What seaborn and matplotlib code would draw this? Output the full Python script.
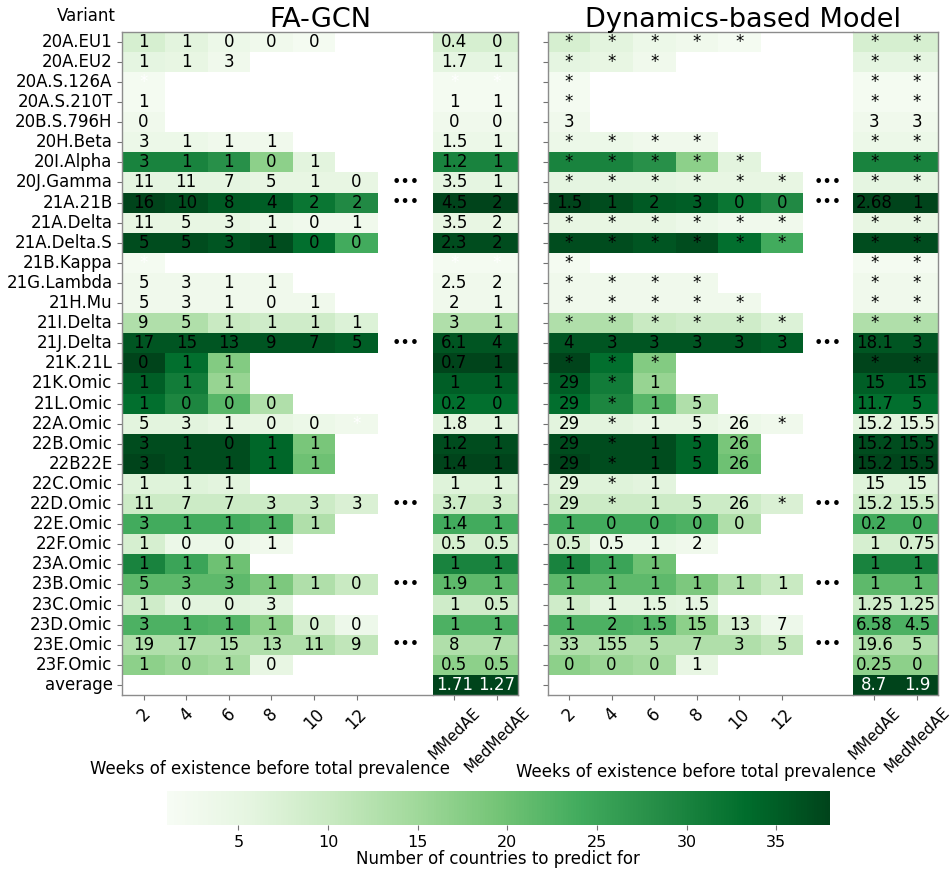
import numpy as np
import pandas as pd
import seaborn as sns
import matplotlib.pyplot as plt

variants = ["20A.EU1", "20A.EU2", "20A.S.126A", "20A.S.210T", "20B.S.796H", "20H.Beta",
            "20I.Alpha", "20J.Gamma", "21A.21B", "21A.Delta", "21A.Delta.S", "21B.Kappa",
            "21G.Lambda", "21H.Mu", "21I.Delta", "21J.Delta", "21K.21L", "21K.Omic",
            "21L.Omic", "22A.Omic", "22B.Omic", "22B22E", "22C.Omic", "22D.Omic",
            "22E.Omic", "22F.Omic", "23A.Omic", "23B.Omic", "23C.Omic", "23D.Omic",
            "23E.Omic", "23F.Omic", "average"]
weeks = ["2", "4", "6", "8", "10", "12"]
agg_cols = ["MMedAE", "MedMedAE"]

# number of countries to predict for (colour), per week column
countries = [
    [8, 6, 4, 3, 2],
    [5.5, 5, 3],
    [2],
    [2],
    [3],
    [4, 4, 3, 3],
    [30, 30, 28, 17, 6],
    [5.5, 5.5, 5.5, 5, 5, 5],
    [38, 37, 35.5, 35, 32, 29],
    [5, 5, 5, 4, 3, 3],
    [37, 37, 36, 37, 33, 24],
    [2],
    [3, 3, 3, 3],
    [3, 3, 3, 3, 3],
    [13, 13, 10, 9, 9, 7],
    [36, 36, 36, 36, 36, 35],
    [38, 33, 18],
    [35, 31, 16],
    [33, 29.5, 22, 13],
    [6, 6, 5, 5, 4, 3],
    [37, 37, 37, 34, 19],
    [38, 37, 37, 34, 20],
    [6.5, 6.5, 6],
    [9.5, 9.5, 9.5, 9.5, 9.5, 7.5],
    [24, 24, 24, 23, 13],
    [8, 4, 4, 3],
    [30, 25, 20],
    [21.5, 21.5, 21.5, 18.5, 13, 10],
    [9, 6, 6, 5.5],
    [23, 23, 22.5, 17, 8, 3.5],
    [13, 13, 13, 13, 13, 11],
    [17, 15.5, 14.5, 5],
    [],
]
average_countries = 38

fagcn_weeks = [
    ["1", "1", "0", "0", "0"], ["1", "1", "3"], ["*"], ["1"], ["0"],
    ["3", "1", "1", "1"], ["3", "1", "1", "0", "1"], ["11", "11", "7", "5", "1", "0"],
    ["16", "10", "8", "4", "2", "2"], ["11", "5", "3", "1", "0", "1"],
    ["5", "5", "3", "1", "0", "0"], ["*"], ["5", "3", "1", "1"], ["5", "3", "1", "0", "1"],
    ["9", "5", "1", "1", "1", "1"], ["17", "15", "13", "9", "7", "5"], ["0", "1", "1"],
    ["1", "1", "1"], ["1", "0", "0", "0"], ["5", "3", "1", "0", "0", "*"],
    ["3", "1", "0", "1", "1"], ["3", "1", "1", "1", "1"], ["1", "1", "1"],
    ["11", "7", "7", "3", "3", "3"], ["3", "1", "1", "1", "1"], ["1", "0", "0", "1"],
    ["1", "1", "1"], ["5", "3", "3", "1", "1", "0"], ["1", "0", "0", "3"],
    ["3", "1", "1", "1", "0", "0"], ["19", "17", "15", "13", "11", "9"],
    ["1", "0", "1", "0"], [],
]
fagcn_agg = [
    ["0.4", "0"], ["1.7", "1"], ["*", "*"], ["1", "1"], ["0", "0"], ["1.5", "1"],
    ["1.2", "1"], ["3.5", "1"], ["4.5", "2"], ["3.5", "2"], ["2.3", "2"], ["*", "*"],
    ["2.5", "2"], ["2", "1"], ["3", "1"], ["6.1", "4"], ["0.7", "1"], ["1", "1"],
    ["0.2", "0"], ["1.8", "1"], ["1.2", "1"], ["1.4", "1"], ["1", "1"], ["3.7", "3"],
    ["1.4", "1"], ["0.5", "0.5"], ["1", "1"], ["1.9", "1"], ["1", "0.5"], ["1", "1"],
    ["8", "7"], ["0.5", "0.5"], ["1.71", "1.27"],
]
dyn_weeks = [
    ["*"] * 5, ["*"] * 3, ["*"], ["*"], ["3"], ["*"] * 4, ["*"] * 5, ["*"] * 6,
    ["1.5", "1", "2", "3", "0", "0"], ["*"] * 6, ["*"] * 6, ["*"], ["*"] * 4, ["*"] * 5,
    ["*"] * 6, ["4", "3", "3", "3", "3", "3"], ["*"] * 3, ["29", "*", "1"],
    ["29", "*", "1", "5"], ["29", "*", "1", "5", "26", "*"], ["29", "*", "1", "5", "26"],
    ["29", "*", "1", "5", "26"], ["29", "*", "1"], ["29", "*", "1", "5", "26", "*"],
    ["1", "0", "0", "0", "0"], ["0.5", "0.5", "1", "2"], ["1", "1", "1"],
    ["1", "1", "1", "1", "1", "1"], ["1", "1", "1.5", "1.5"],
    ["1", "2", "1.5", "15", "13", "7"], ["33", "155", "5", "7", "3", "5"],
    ["0", "0", "0", "1"], [],
]
dyn_agg = [
    ["*", "*"], ["*", "*"], ["*", "*"], ["*", "*"], ["3", "3"], ["*", "*"], ["*", "*"],
    ["*", "*"], ["2.68", "1"], ["*", "*"], ["*", "*"], ["*", "*"], ["*", "*"], ["*", "*"],
    ["*", "*"], ["18.1", "3"], ["*", "*"], ["15", "15"], ["11.7", "5"], ["15.2", "15.5"],
    ["15.2", "15.5"], ["15.2", "15.5"], ["15", "15"], ["15.2", "15.5"], ["0.2", "0"],
    ["1", "0.75"], ["1", "1"], ["1", "1"], ["1.25", "1.25"], ["6.58", "4.5"],
    ["19.6", "5"], ["0.25", "0"], ["8.7", "1.9"],
]
dots_rows = ["20J.Gamma", "21A.21B", "21J.Delta", "22D.Omic", "23B.Omic", "23E.Omic"]


def build(week_vals, agg_vals):
    n = len(variants)
    cw = np.full((n, 6), np.nan)
    aw = np.full((n, 6), "", dtype=object)
    ca = np.full((n, 2), np.nan)
    aa = np.full((n, 2), "", dtype=object)
    for i in range(n):
        for j, c in enumerate(countries[i]):
            cw[i, j] = c
            aw[i, j] = week_vals[i][j]
        ca[i, :] = countries[i][0] if countries[i] else average_countries
        aa[i, :] = agg_vals[i]
    cw = pd.DataFrame(cw, index=variants, columns=weeks)
    ca = pd.DataFrame(ca, index=variants, columns=agg_cols)
    return cw, aw, ca, aa


W, H = 951, 873
fig = plt.figure(figsize=(W / 100, H / 100), dpi=100)
y_top, y_bot = 31.7, 695.0
colw = 42.6
cax = fig.add_axes([166.7 / W, 1 - 825 / H, 663.3 / W, 34 / H])

panels = [
    ("FA-GCN", fagcn_weeks, fagcn_agg, 122.3, 433.1, 518.3, 270, 760),
    ("Dynamics-based Model", dyn_weeks, dyn_agg, 547.7, 853.0, 938.3, 696, 763),
]
fs = 12
for k, (title, wv, av, x0, x1, x2, xl_x, xl_top) in enumerate(panels):
    cw, aw, ca, aa = build(wv, av)
    ax_w = fig.add_axes([x0 / W, 1 - y_bot / H, (x1 - x0) / W, (y_bot - y_top) / H])
    ax_a = fig.add_axes([x1 / W, 1 - y_bot / H, (x2 - x1) / W, (y_bot - y_top) / H])
    sns.heatmap(cw, ax=ax_w, cmap="Greens", vmin=1, vmax=38, annot=aw, fmt="",
                annot_kws={"fontsize": 12, "color": "black"},
                cbar=(k == 0), cbar_ax=cax if k == 0 else None,
                cbar_kws={"orientation": "horizontal"},
                xticklabels=weeks, yticklabels=variants)
    sns.heatmap(ca, ax=ax_a, cmap="Greens", vmin=1, vmax=38, annot=aa, fmt="",
                annot_kws={"fontsize": 12, "color": "black"},
                cbar=False, xticklabels=agg_cols, yticklabels=False)
    ax_w.set_xlim(0, (x1 - x0) / colw)
    for r in dots_rows:
        ax_w.text(6 + ((x1 - x0) / colw - 6) / 2, variants.index(r) + 0.5, "•••",
                  ha="center", va="center", fontsize=11.5, color="black")
    for ax in (ax_w, ax_a):
        for t in ax.texts:
            row = int(t.get_position()[1])
            if row == len(variants) - 1 or (k == 0 and t.get_text() == "*"):
                t.set_color("white")
        for s in ax.spines.values():
            s.set_visible(True)
            s.set_color("0.55")
            s.set_linewidth(1.0)
        ax.tick_params(axis="both", colors="0.45", labelcolor="black", labelsize=fs)
        ax.set_ylabel("")
    ax_w.tick_params(axis="x", labelrotation=45, labelsize=12)
    ax_a.tick_params(axis="x", labelrotation=45, labelsize=11)
    ax_w.spines["right"].set_visible(False)
    ax_a.spines["left"].set_visible(False)
    ax_a.set_yticks([])
    ax_w.set_yticks(np.arange(len(variants)) + 0.5)
    if k == 0:
        ax_w.set_yticklabels(variants, rotation=0, fontsize=fs)
    else:
        ax_w.set_yticklabels([])
    ax_w.set_xlabel("Weeks of existence before total prevalence", fontsize=fs)
    ax_w.xaxis.set_label_coords((xl_x - x0) / (x1 - x0), (y_bot - xl_top) / (y_bot - y_top))
    fig.text(((x0 + x2) / 2) / W, 1 - 27 / H, title, fontsize=19.5, ha="center", va="baseline")

fig.text(116 / W, 1 - 21 / H, "Variant", fontsize=fs, ha="right", va="baseline")

cbar = fig.axes[1].collections[0].colorbar
cbar.set_ticks([5, 10, 15, 20, 25, 30, 35])
cbar.ax.tick_params(labelsize=11.5, colors="0.45", labelcolor="black")
cbar.set_label("Number of countries to predict for", fontsize=fs)
cbar.ax.xaxis.set_label_coords(0.5, -0.74)
cbar.outline.set_edgecolor("0.55")

fig.savefig("out.png", dpi=100)
